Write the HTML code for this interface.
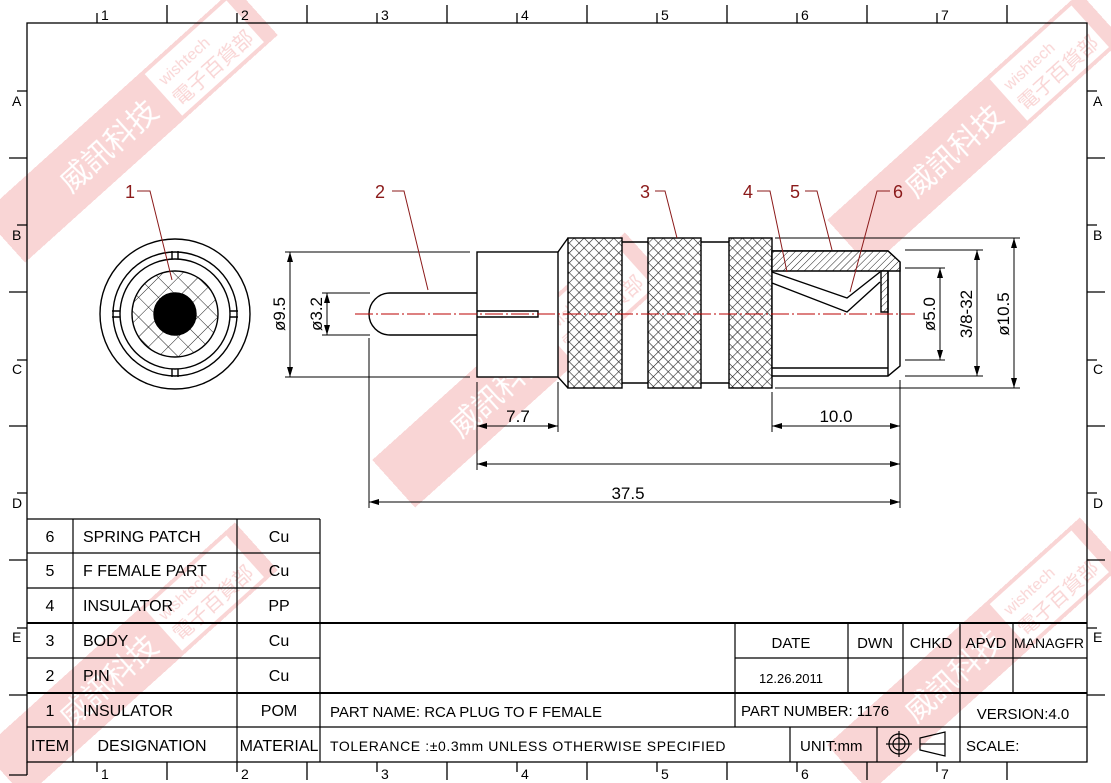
<!DOCTYPE html>
<html><head><meta charset="utf-8"><style>
html,body{margin:0;padding:0;background:#fff;}
svg{display:block;}
text{font-family:"Liberation Sans","Noto Sans CJK SC",sans-serif;}
</style></head><body>
<svg width="1111" height="783" viewBox="0 0 1111 783" xmlns="http://www.w3.org/2000/svg">
<defs>
<pattern id="knurl" width="7" height="7" patternUnits="userSpaceOnUse" patternTransform="rotate(45)">
<rect width="7" height="7" fill="#fff"/>
<line x1="0" y1="0" x2="0" y2="7" stroke="#222" stroke-width="1.2"/>
<line x1="0" y1="0" x2="7" y2="0" stroke="#222" stroke-width="1.2"/>
</pattern>
<pattern id="hatch" width="5" height="5" patternUnits="userSpaceOnUse" patternTransform="rotate(45)">
<rect width="5" height="5" fill="#fff"/>
<line x1="0" y1="0" x2="0" y2="5" stroke="#222" stroke-width="1"/>
</pattern>
<pattern id="front" width="14" height="14" patternUnits="userSpaceOnUse" patternTransform="rotate(45)">
<rect width="14" height="14" fill="#fff"/>
<line x1="0" y1="0" x2="0" y2="14" stroke="#222" stroke-width="1"/>
<line x1="0" y1="0" x2="14" y2="0" stroke="#222" stroke-width="1"/>
</pattern>
<marker id="ar" viewBox="0 0 10 6" refX="10" refY="3" markerWidth="10" markerHeight="6" orient="auto-start-reverse" markerUnits="userSpaceOnUse">
<path d="M0,0 L10,3 L0,6 z" fill="#000"/>
</marker>
</defs>

<!-- watermarks -->
<g opacity="0.35">
<g transform="translate(130,125) rotate(-42)"><rect x="-170" y="-32" width="340" height="64" fill="#e88"/><text x="-90" y="12" font-size="30" fill="#fff" font-family="Noto Sans CJK TC,sans-serif">威訊科技</text><rect x="45" y="-28" width="110" height="56" fill="#fff"/><text x="52" y="-6" font-size="16" fill="#e88">wishtech</text><text x="50" y="20" font-size="20" fill="#e88" font-family="Noto Sans CJK TC,sans-serif">電子百貨部</text></g>
<g transform="translate(975,130) rotate(-42)"><rect x="-170" y="-32" width="340" height="64" fill="#e88"/><text x="-90" y="12" font-size="30" fill="#fff" font-family="Noto Sans CJK TC,sans-serif">威訊科技</text><rect x="45" y="-28" width="110" height="56" fill="#fff"/><text x="52" y="-6" font-size="16" fill="#e88">wishtech</text><text x="50" y="20" font-size="20" fill="#e88" font-family="Noto Sans CJK TC,sans-serif">電子百貨部</text></g>
<g transform="translate(520,370) rotate(-42)"><rect x="-170" y="-32" width="340" height="64" fill="#e88"/><text x="-90" y="12" font-size="30" fill="#fff" font-family="Noto Sans CJK TC,sans-serif">威訊科技</text><rect x="45" y="-28" width="110" height="56" fill="#fff"/><text x="52" y="-6" font-size="16" fill="#e88">wishtech</text><text x="50" y="20" font-size="20" fill="#e88" font-family="Noto Sans CJK TC,sans-serif">電子百貨部</text></g>
<g transform="translate(130,660) rotate(-42)"><rect x="-170" y="-32" width="340" height="64" fill="#e88"/><text x="-90" y="12" font-size="30" fill="#fff" font-family="Noto Sans CJK TC,sans-serif">威訊科技</text><rect x="45" y="-28" width="110" height="56" fill="#fff"/><text x="52" y="-6" font-size="16" fill="#e88">wishtech</text><text x="50" y="20" font-size="20" fill="#e88" font-family="Noto Sans CJK TC,sans-serif">電子百貨部</text></g>
<g transform="translate(975,655) rotate(-42)"><rect x="-170" y="-32" width="340" height="64" fill="#e88"/><text x="-90" y="12" font-size="30" fill="#fff" font-family="Noto Sans CJK TC,sans-serif">威訊科技</text><rect x="45" y="-28" width="110" height="56" fill="#fff"/><text x="52" y="-6" font-size="16" fill="#e88">wishtech</text><text x="50" y="20" font-size="20" fill="#e88" font-family="Noto Sans CJK TC,sans-serif">電子百貨部</text></g>
</g>

<!-- border -->
<g stroke="#000" stroke-width="1.3" fill="none">
<rect x="27" y="23" width="1060" height="739"/>
<path d="M97,13V23 M237,13V23 M377,13V23 M517,13V23 M657,13V23 M797,13V23 M937,13V23
M167,5V23 M307,5V23 M447,5V23 M587,5V23 M727,5V23 M867,5V23 M1007,5V23
M97,762V772 M237,762V772 M377,762V772 M517,762V772 M657,762V772 M797,762V772 M937,762V772
M167,762V780 M307,762V780 M447,762V780 M587,762V780 M727,762V780 M867,762V780 M1007,762V780
M17,91H27 M9,158H27 M17,225H27 M9,292H27 M17,360H27 M9,426H27 M17,493H27 M9,560H27 M17,628H27 M9,695H27 M9,775H27 M27,762V775
M1087,91H1097 M1087,158H1105 M1087,225H1097 M1087,292H1105 M1087,360H1097 M1087,426H1105 M1087,493H1097 M1087,560H1105 M1087,628H1097 M1087,695H1105"/>
</g>
<g font-size="14" fill="#000">
<text x="101" y="20">1</text><text x="241" y="20">2</text><text x="381" y="20">3</text><text x="521" y="20">4</text><text x="661" y="20">5</text><text x="801" y="20">6</text><text x="941" y="20">7</text>
<text x="101" y="779">1</text><text x="241" y="779">2</text><text x="381" y="779">3</text><text x="521" y="779">4</text><text x="661" y="779">5</text><text x="801" y="779">6</text><text x="941" y="779">7</text>
<text x="12" y="106">A</text><text x="12" y="240">B</text><text x="12" y="374">C</text><text x="12" y="508">D</text><text x="12" y="642">E</text>
<text x="1093" y="106">A</text><text x="1093" y="240">B</text><text x="1093" y="374">C</text><text x="1093" y="508">D</text><text x="1093" y="642">E</text>
</g>

<!-- front view -->
<g stroke="#000" stroke-width="1.4" fill="none">
<circle cx="175" cy="314" r="75"/>
<circle cx="175" cy="314" r="62"/>
<circle cx="175" cy="314" r="55"/>
<circle cx="175" cy="314" r="43" fill="url(#front)"/>
<circle cx="175" cy="314" r="21" fill="#000"/>
<path d="M172,251V259 M178,251V259 M172,369V377 M178,369V377 M112,311H120 M112,317H120 M230,311H238 M230,317H238"/>
</g>

<!-- side view -->
<g stroke="#000" stroke-width="1.4" fill="none">
<path d="M477,293H390 A21,21 0 0 0 390,335 H477"/>
<rect x="477" y="252" width="81" height="125" fill="#fff"/>
<path d="M477,311H538V317H477" />
<path d="M558,252L568,238 M558,377L568,388"/>
<rect x="568" y="238" width="54" height="150" fill="url(#knurl)"/>
<path d="M622,242H648 M622,383H648"/>
<rect x="648" y="238" width="53" height="150" fill="url(#knurl)"/>
<path d="M701,242H729 M701,383H729"/>
<rect x="729" y="238" width="43" height="150" fill="url(#knurl)"/>
<path d="M772,251H888L900,262V366L888,376H772Z" fill="#fff"/>
<path d="M772,251H888L900,262V271H772Z" fill="url(#hatch)"/>
<path d="M881,271H888V312H881Z" fill="url(#hatch)"/>
<path d="M888,271V376 M772,368H888"/>
<path d="M772,272L847,298L880,272 M772,283L847,312L880,282" />
</g>
<line x1="355" y1="314" x2="915" y2="314" stroke="#b00" stroke-width="1" stroke-dasharray="18,3,2,3"/>

<!-- dimensions -->
<g stroke="#000" stroke-width="1" fill="none">
<path d="M285,252H470 M285,377H470 M322,293H370 M322,335H370"/>
<line x1="290" y1="252" x2="290" y2="377" marker-start="url(#ar)" marker-end="url(#ar)"/>
<line x1="327" y1="293" x2="327" y2="335" marker-start="url(#ar)" marker-end="url(#ar)"/>
<path d="M477,382V470 M558,382V432 M369,338V508 M900,380V508 M772,392V432"/>
<line x1="477" y1="426" x2="558" y2="426" marker-start="url(#ar)" marker-end="url(#ar)"/>
<line x1="477" y1="464" x2="900" y2="464" marker-start="url(#ar)" marker-end="url(#ar)"/>
<line x1="369" y1="502" x2="900" y2="502" marker-start="url(#ar)" marker-end="url(#ar)"/>
<line x1="772" y1="426" x2="900" y2="426" marker-start="url(#ar)" marker-end="url(#ar)"/>
<path d="M905,268H945 M905,360H945 M905,250H983 M905,376H983 M775,238H1020 M775,388H1020"/>
<line x1="940" y1="268" x2="940" y2="360" marker-start="url(#ar)" marker-end="url(#ar)"/>
<line x1="977" y1="250" x2="977" y2="376" marker-start="url(#ar)" marker-end="url(#ar)"/>
<line x1="1014" y1="238" x2="1014" y2="388" marker-start="url(#ar)" marker-end="url(#ar)"/>
</g>
<g font-size="17" fill="#000">
<text transform="translate(285,314) rotate(-90)" text-anchor="middle">ø9.5</text>
<text transform="translate(322,314) rotate(-90)" text-anchor="middle">ø3.2</text>
<text x="518" y="422" text-anchor="middle">7.7</text>
<text x="836" y="422" text-anchor="middle">10.0</text>
<text x="628" y="499" text-anchor="middle">37.5</text>
<text transform="translate(935,314) rotate(-90)" text-anchor="middle">ø5.0</text>
<text transform="translate(972,314) rotate(-90)" text-anchor="middle">3/8-32</text>
<text transform="translate(1009,314) rotate(-90)" text-anchor="middle">ø10.5</text>
</g>

<!-- leaders -->
<g stroke="#8b1a1a" stroke-width="1" fill="none">
<path d="M137,191H150L172,280 M392,191H404L428,290 M655,191H665L677,238 M757,191H770L787,272 M805,191H817L832,250 M890,191H877L850,292"/>
</g>
<g font-size="18" fill="#8b1a1a">
<text x="125" y="198">1</text><text x="375" y="198">2</text><text x="640" y="198">3</text><text x="743" y="198">4</text><text x="790" y="198">5</text><text x="893" y="198">6</text>
</g>

<!-- parts table -->
<g stroke="#000" stroke-width="1.2" fill="none">
<path d="M27,519H320 M27,553H320 M27,588H320 M27,658H320 M27,727H1087"/>
<path d="M27,623H1087 M27,693H1087" stroke-width="2"/>
<path d="M73,519V762 M237,519V762 M320,519V762"/>
<path d="M735,623V727 M848,623V693 M903,623V693 M960,623V762 M1013,623V693 M735,658H1087 M790,727V762 M877,727V762"/>
</g>
<g font-size="16" fill="#000">
<g text-anchor="middle"><text x="50" y="542">6</text><text x="50" y="576">5</text><text x="50" y="611">4</text><text x="50" y="646">3</text><text x="50" y="681">2</text><text x="50" y="716">1</text><text x="50" y="751">ITEM</text>
<text x="279" y="542">Cu</text><text x="279" y="576">Cu</text><text x="279" y="611">PP</text><text x="279" y="646">Cu</text><text x="279" y="681">Cu</text><text x="279" y="716">POM</text><text x="279" y="751">MATERIAL</text>
<text x="152" y="751">DESIGNATION</text></g>
<text x="83" y="542">SPRING PATCH</text><text x="83" y="576">F FEMALE PART</text><text x="83" y="611">INSULATOR</text><text x="83" y="646">BODY</text><text x="83" y="681">PIN</text><text x="83" y="716">INSULATOR</text>
</g>
<g font-size="15" fill="#000">
<g text-anchor="middle"><text x="791" y="648">DATE</text><text x="875" y="648">DWN</text><text x="931" y="648">CHKD</text><text x="986" y="648">APVD</text><text x="1049" y="648" font-size="14">MANAGFR</text>
<text x="791" y="683" font-size="13">12.26.2011</text><text x="1023" y="719">VERSION:4.0</text></g>
<text x="330" y="717">PART  NAME: RCA PLUG TO F FEMALE</text>
<text x="741" y="716">PART  NUMBER: 1176</text>
<text x="330" y="751" font-size="14" letter-spacing="0.6">TOLERANCE  :±0.3mm  UNLESS  OTHERWISE  SPECIFIED</text>
<text x="800" y="751">UNIT:mm</text>
<text x="966" y="751">SCALE:</text>
</g>
<g stroke="#000" stroke-width="1.2" fill="none">
<circle cx="899" cy="744" r="10"/><circle cx="899" cy="744" r="6"/><path d="M886,744H912 M899,731V757"/>
<path d="M920,738L945,732V756L920,750Z M920,744H945"/>
</g>
</svg>
</body></html>
